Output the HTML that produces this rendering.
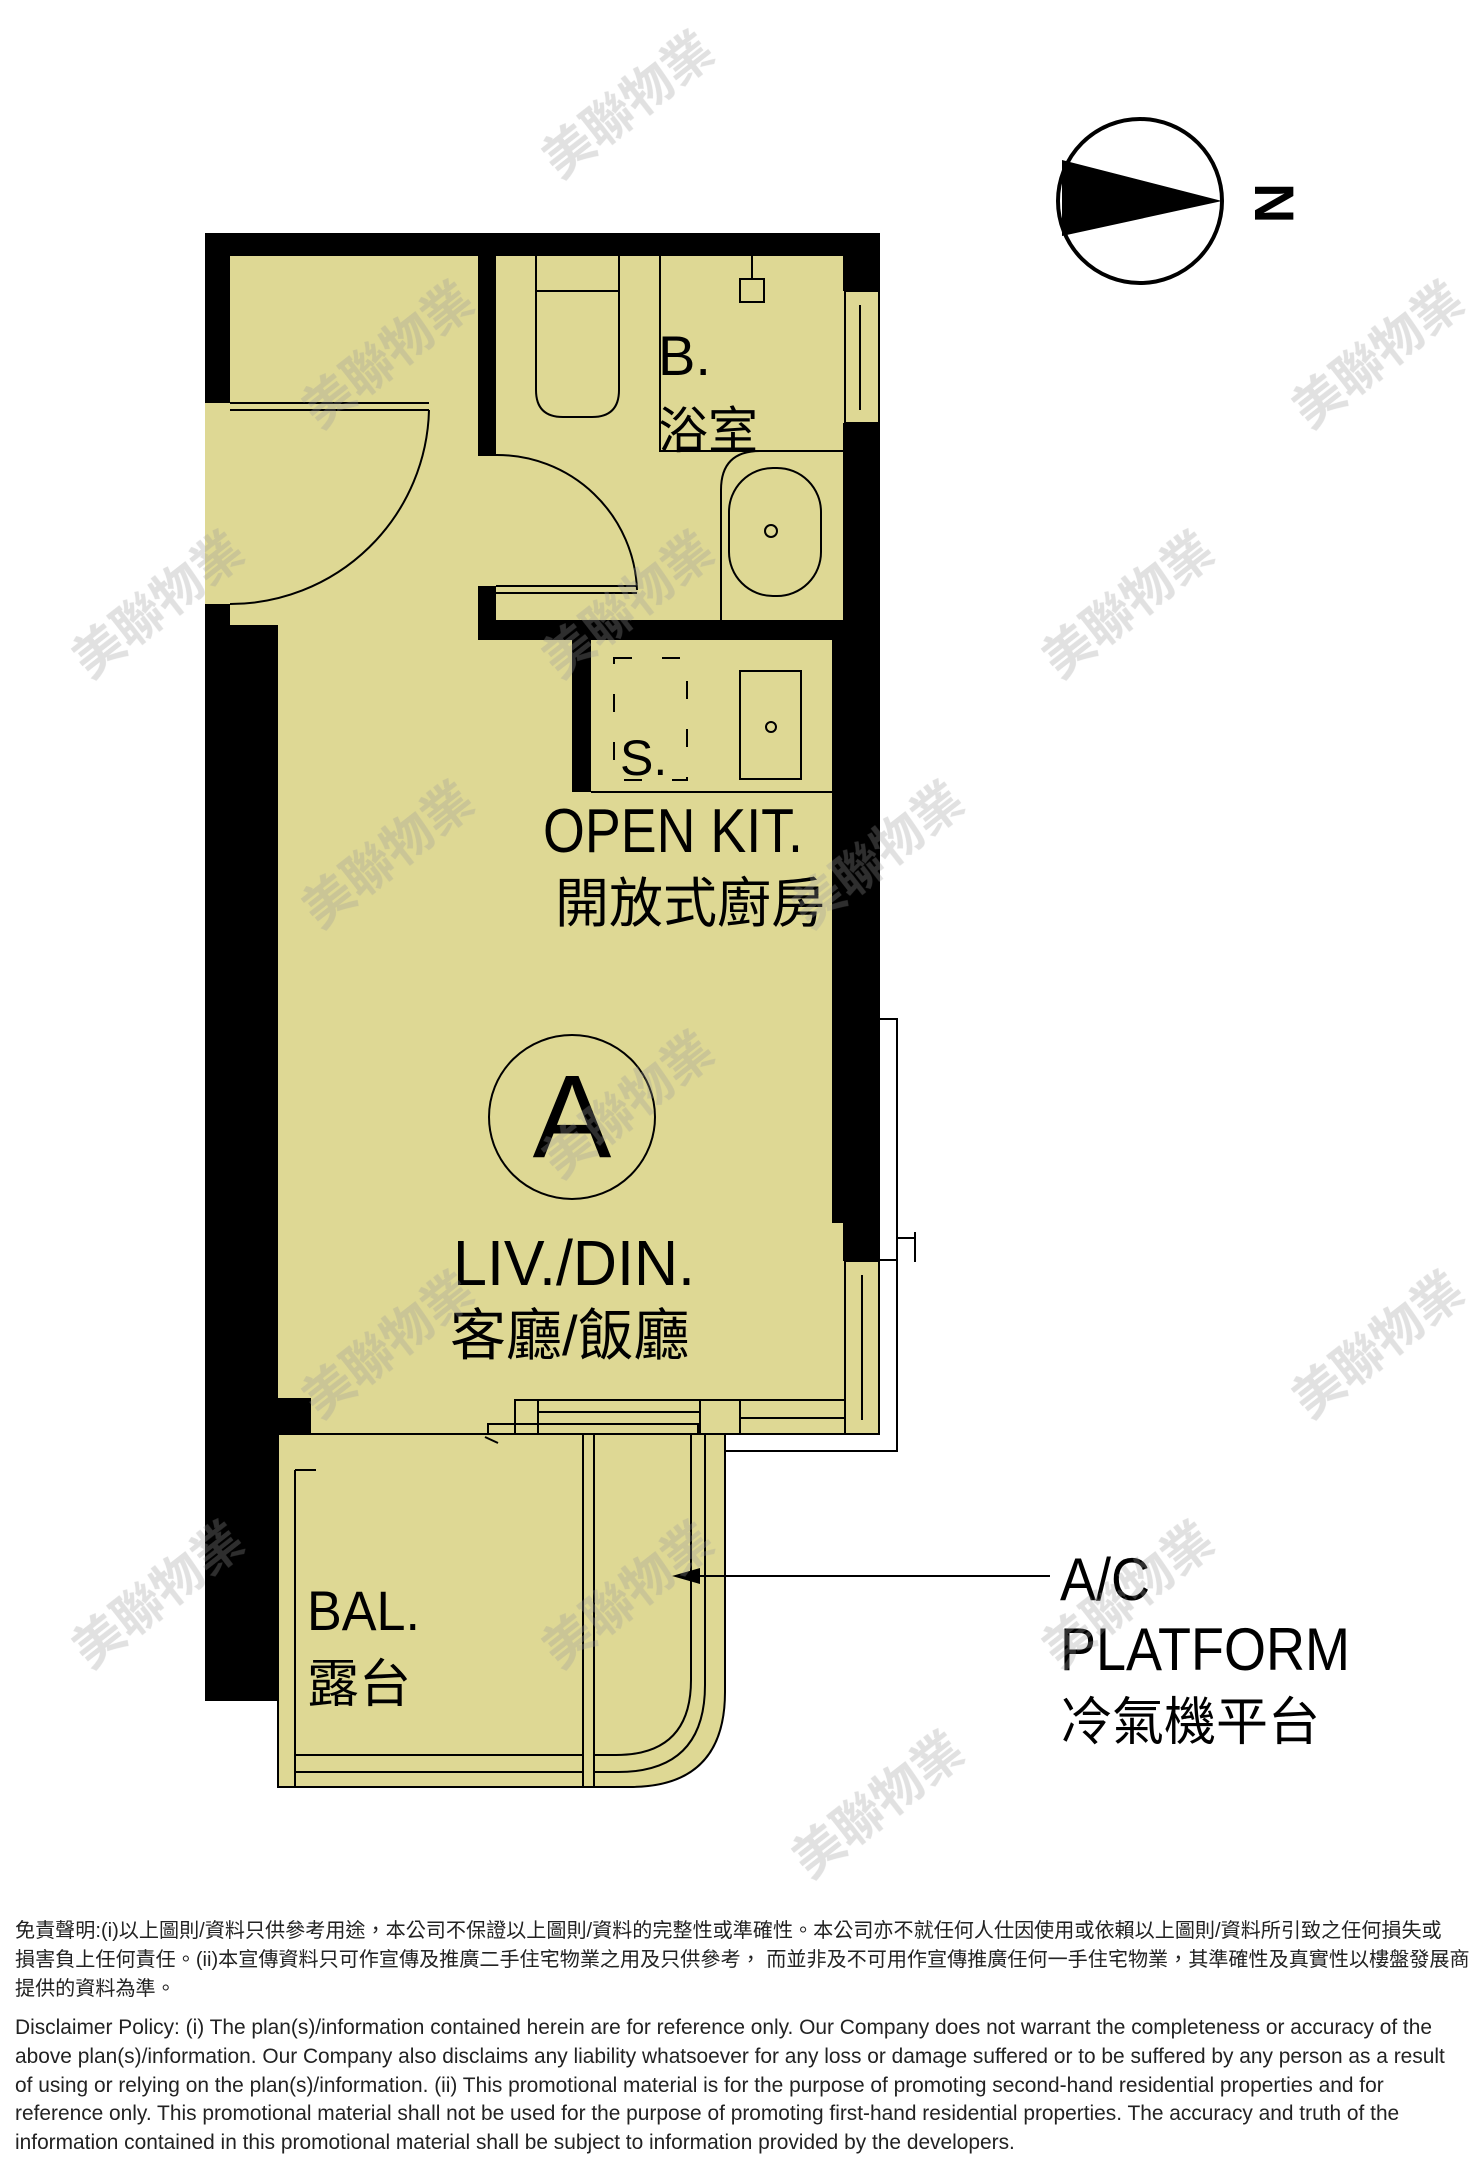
<!DOCTYPE html>
<html><head><meta charset="utf-8"><style>
html,body{margin:0;padding:0;background:#fff;}
body{width:1479px;height:2174px;position:relative;overflow:hidden;font-family:"Liberation Sans","Noto Sans CJK TC",sans-serif;}
.disc{position:absolute;left:15px;width:1470px;font-size:20.1px;line-height:28.8px;color:#222;white-space:nowrap;}
</style></head><body>
<svg width="1479" height="1900" style="position:absolute;left:0;top:0" xmlns="http://www.w3.org/2000/svg" font-family="Liberation Sans, Noto Sans CJK TC, sans-serif">
<g fill="#ded894" stroke="none">
<rect x="205" y="233" width="675" height="1201"/>
</g>
<path d="M278 1434 H725 V1692 Q725 1787 630 1787 H278 Z" fill="#ded894" stroke="#000" stroke-width="2"/>
<g fill="#000">
<rect x="205" y="233" width="675" height="23"/>
<rect x="205" y="233" width="25" height="170"/>
<rect x="205" y="604" width="25" height="30"/>
<rect x="205" y="625" width="73" height="1076"/>
<rect x="478" y="256" width="18" height="200"/>
<rect x="478" y="586" width="18" height="54"/>
<rect x="478" y="620" width="365" height="20"/>
<rect x="572" y="620" width="19" height="172"/>
<rect x="843" y="233" width="37" height="58"/>
<rect x="843" y="423" width="37" height="230"/>
<rect x="832" y="640" width="48" height="583"/>
<rect x="843" y="1223" width="37" height="38"/>
<rect x="278" y="1398" width="33" height="36"/>
</g>
<g fill="none" stroke="#000" stroke-width="2">
<rect x="845" y="291" width="34" height="132"/>
<line x1="860" y1="305" x2="860" y2="410"/>
<rect x="845" y="1261" width="34" height="173"/>
<line x1="862" y1="1275" x2="862" y2="1420"/>
<line x1="230" y1="403" x2="429" y2="403"/>
<line x1="230" y1="410" x2="429" y2="410"/>
<path d="M429 410 A199 199 0 0 1 230 604"/>
<line x1="496" y1="586" x2="637" y2="586"/>
<line x1="496" y1="593" x2="637" y2="593"/>
<path d="M496 455 A140 140 0 0 1 637 590"/>
<path d="M536 256 V291 H619 V256"/>
<path d="M536 291 V390 Q536 417 563 417 H592 Q619 417 619 390 V291"/>
<path d="M660 256 V451 H843"/>
<rect x="740" y="279" width="24" height="23"/>
<line x1="752" y1="256" x2="752" y2="279"/>
<path d="M721 620 V490 Q721 451 760 451"/>
<rect x="729" y="468" width="92" height="128" rx="44"/>
<circle cx="771" cy="531" r="6"/>
<line x1="591" y1="792" x2="832" y2="792"/>
<rect x="614" y="658" width="73" height="122" stroke-dasharray="18 30"/>
<rect x="740" y="671" width="61" height="108"/>
<circle cx="771" cy="727" r="5"/>
<ellipse cx="572" cy="1117" rx="83" ry="82"/>
<line x1="295" y1="1470" x2="295" y2="1787"/>
<line x1="295" y1="1470" x2="316" y2="1470"/>
<line x1="311" y1="1434" x2="725" y2="1434"/>
<line x1="295" y1="1755" x2="583" y2="1755"/>
<line x1="295" y1="1772" x2="583" y2="1772"/>
<line x1="583" y1="1434" x2="583" y2="1787"/>
<line x1="594" y1="1434" x2="594" y2="1787"/>
<path d="M691 1434 V1680 Q691 1755 616 1755 H594"/>
<path d="M705 1434 V1685 Q705 1772 618 1772 H594"/>
<rect x="515" y="1400" width="185" height="34"/>
<line x1="538" y1="1400" x2="538" y2="1434"/>
<line x1="538" y1="1412" x2="700" y2="1412"/>
<rect x="488" y="1424" width="210" height="10"/>
<rect x="700" y="1400" width="145" height="34"/>
<line x1="740" y1="1400" x2="740" y2="1434"/>
<line x1="740" y1="1418" x2="845" y2="1418"/>
<line x1="498" y1="1443" x2="485" y2="1437"/>
<path d="M880 1019 H897 V1451 H725"/>
<path d="M897 1238 H915 M915 1232 V1262 M880 1260 H897"/>
<line x1="680" y1="1576" x2="1050" y2="1576"/>
<circle cx="1140" cy="201" r="82" stroke-width="4"/>
</g>
<polygon points="672,1576 700,1568 700,1584" fill="#000"/>
<polygon points="1062,160 1222,201 1062,236" fill="#000"/>
<text x="1230" y="208" font-size="56" font-weight="bold" transform="rotate(90 1255 208)" fill="#000">N</text>
<g fill="#000">
<text x="658" y="375" font-size="56">B.</text>
<text x="658" y="448" font-size="50">浴室</text>
<text x="620" y="775" font-size="50" font-weight="300">S.</text>
<text x="543" y="852" font-size="62" textLength="260" lengthAdjust="spacingAndGlyphs">OPEN KIT.</text>
<text x="555" y="922" font-size="54">開放式廚房</text>
<text x="572" y="1157" font-size="118" text-anchor="middle">A</text>
<text x="453" y="1285" font-size="64" textLength="242" lengthAdjust="spacingAndGlyphs">LIV./DIN.</text>
<text x="450" y="1355" font-size="56">客廳/飯廳</text>
<text x="307" y="1630" font-size="56" textLength="113" lengthAdjust="spacingAndGlyphs">BAL.</text>
<text x="307" y="1702" font-size="52">露台</text>
<text x="1060" y="1600" font-size="60" textLength="90" lengthAdjust="spacingAndGlyphs">A/C</text>
<text x="1060" y="1670" font-size="60" textLength="290" lengthAdjust="spacingAndGlyphs">PLATFORM</text>
<text x="1060" y="1740" font-size="52">冷氣機平台</text>
</g>
<g fill="#999" opacity="0.3" font-size="50" font-weight="bold">
<text transform="translate(560,180) rotate(-38)">美聯物業</text>
<text transform="translate(320,430) rotate(-38)">美聯物業</text>
<text transform="translate(90,680) rotate(-38)">美聯物業</text>
<text transform="translate(1310,430) rotate(-38)">美聯物業</text>
<text transform="translate(1060,680) rotate(-38)">美聯物業</text>
<text transform="translate(560,680) rotate(-38)">美聯物業</text>
<text transform="translate(320,930) rotate(-38)">美聯物業</text>
<text transform="translate(810,930) rotate(-38)">美聯物業</text>
<text transform="translate(560,1180) rotate(-38)">美聯物業</text>
<text transform="translate(320,1420) rotate(-38)">美聯物業</text>
<text transform="translate(1310,1420) rotate(-38)">美聯物業</text>
<text transform="translate(90,1670) rotate(-38)">美聯物業</text>
<text transform="translate(560,1670) rotate(-38)">美聯物業</text>
<text transform="translate(1060,1670) rotate(-38)">美聯物業</text>
<text transform="translate(810,1880) rotate(-38)">美聯物業</text>
</g>
</svg>
<div class="disc" style="top:1917px;">免責聲明:(i)以上圖則/資料只供參考用途，本公司不保證以上圖則/資料的完整性或準確性。本公司亦不就任何人仕因使用或依賴以上圖則/資料所引致之任何損失或<br>損害負上任何責任。(ii)本宣傳資料只可作宣傳及推廣二手住宅物業之用及只供參考， 而並非及不可用作宣傳推廣任何一手住宅物業，其準確性及真實性以樓盤發展商<br>提供的資料為準。</div>
<div class="disc" style="top:2014px;font-size:20.9px;">Disclaimer Policy: (i) The plan(s)/information contained herein are for reference only. Our Company does not warrant the completeness or accuracy of the<br>above plan(s)/information. Our Company also disclaims any liability whatsoever for any loss or damage suffered or to be suffered by any person as a result<br>of using or relying on the plan(s)/information. (ii) This promotional material is for the purpose of promoting second-hand residential properties and for<br>reference only. This promotional material shall not be used for the purpose of promoting first-hand residential properties. The accuracy and truth of the<br>information contained in this promotional material shall be subject to information provided by the developers.</div>
</body></html>
